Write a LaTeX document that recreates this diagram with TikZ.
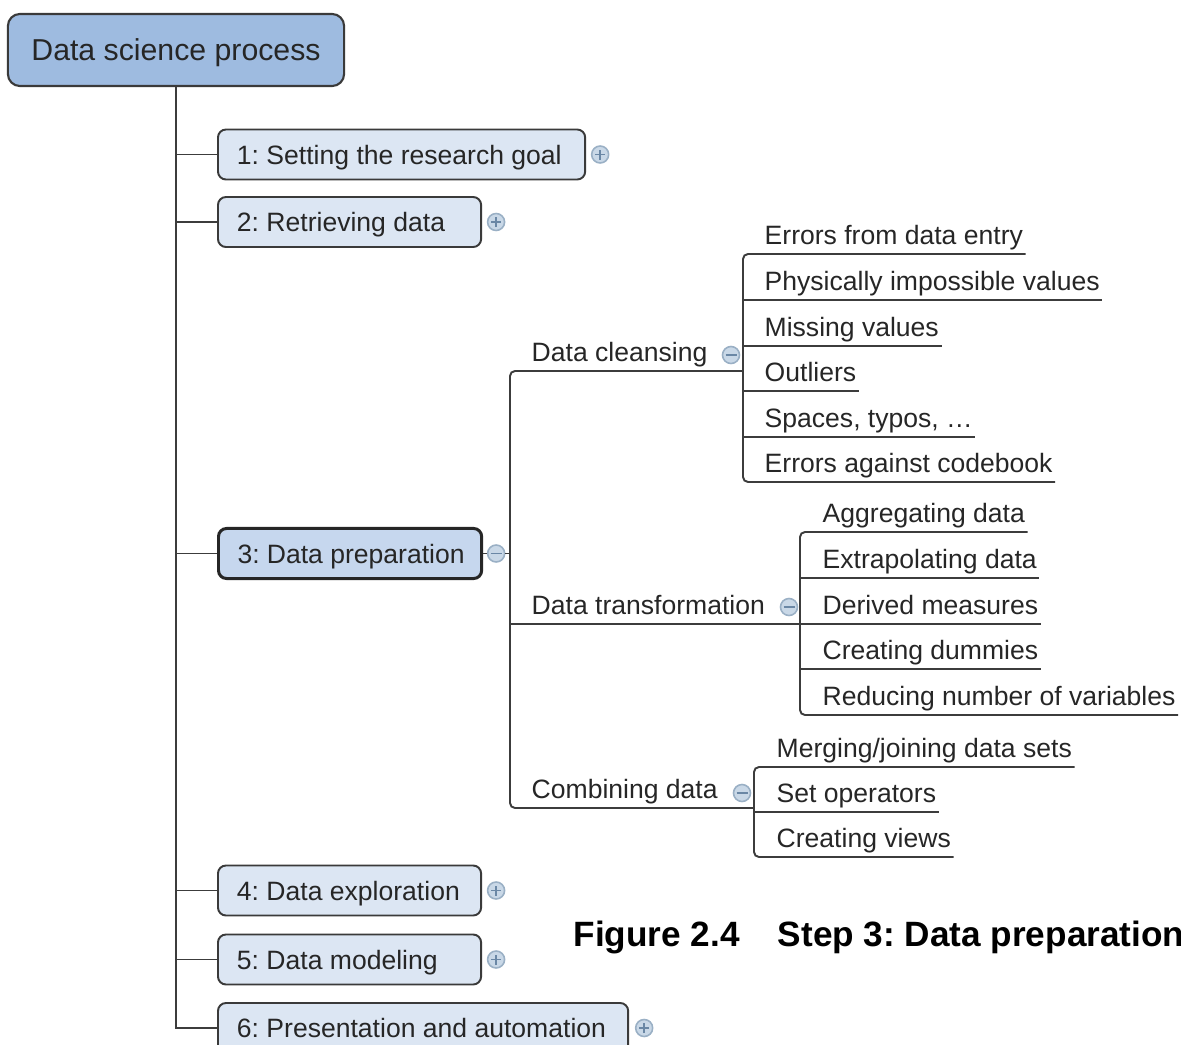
\documentclass[tikz,border=0pt]{standalone}
\usepackage{fontspec}
\setmainfont{Liberation Sans}
\definecolor{rootfill}{HTML}{9EBBE0}
\definecolor{boxfill}{HTML}{DCE6F3}
\definecolor{activefill}{HTML}{C6D7EE}
\definecolor{bordercol}{HTML}{3A3A3A}
\definecolor{txtcol}{HTML}{262626}
\definecolor{linecol}{HTML}{3C3C3C}
\definecolor{togfill}{HTML}{C9D8E7}
\definecolor{togdraw}{HTML}{9AB0C5}
\definecolor{togsign}{HTML}{6A87A5}
\begin{document}
\frenchspacing
\begin{tikzpicture}[x=0.01cm,y=-0.01cm,
  txt/.style={text=txtcol, font=\fontsize{7.55}{9}\selectfont},
  rootbox/.style={draw=bordercol, line width=0.6pt, fill=rootfill, rounded corners=0.12cm,
    minimum width=3.36cm, minimum height=0.72cm, font=\fontsize{8.6}{10}\selectfont,
    text=txtcol, text height=0.215cm, text depth=0cm},
  stepbox/.style={draw=bordercol, line width=0.55pt, fill=boxfill, rounded corners=0.08cm,
    minimum height=0.5cm, inner xsep=0.17cm, align=flush left, txt, text height=0.19cm,
    text depth=0cm, anchor=west},
  activebox/.style={stepbox, fill=activefill, draw=black!85, line width=0.85pt},
  tog/.style={circle, draw=togdraw, fill=togfill, minimum size=0.17cm, inner sep=0pt, line width=0.45pt},
  plustog/.style={tog, path picture={
    \draw[togsign, line width=0.5pt]
      ([xshift=-0.05cm]path picture bounding box.center) -- ([xshift=0.05cm]path picture bounding box.center)
      ([yshift=-0.05cm]path picture bounding box.center) -- ([yshift=0.05cm]path picture bounding box.center);}},
  minustog/.style={tog, path picture={
    \draw[togsign, line width=0.5pt]
      ([xshift=-0.055cm]path picture bounding box.center) -- ([xshift=0.055cm]path picture bounding box.center);}},
  leaf/.style={txt, anchor=south west, inner xsep=0.02cm, inner ysep=0.09cm,
    text height=0.19cm, text depth=0cm},
  link/.style={draw=linecol, line width=0.55pt},
  spine/.style={link, rounded corners=0.05cm},
]
\useasboundingbox (0,0) rectangle (1181,1045);
\clip (0,0) rectangle (1181,1045);

% root and steps
\node[rootbox] (root) at (176,50) {Data science process};
\node[stepbox, text width=3.33cm] (s1) at (217,154.5) {\hspace{0.02cm}1: Setting the research goal};
\node[stepbox, text width=2.29cm] (s2) at (217,222) {\hspace{0.02cm}2: Retrieving data};
\node[activebox, text width=2.29cm] (s3) at (217,553.5) {\hspace{0.02cm}3: Data preparation};
\node[stepbox, text width=2.29cm] (s4) at (217,890.5) {\hspace{0.02cm}4: Data exploration};
\node[stepbox, text width=2.29cm] (s5) at (217,959.5) {\hspace{0.02cm}5: Data modeling};
\node[stepbox, text width=3.76cm] (s6) at (217,1028) {\hspace{0.02cm}6: Presentation and automation};

\foreach \s in {s1,s2,s3,s4,s5,s6} {\draw[link] (root.south) |- (\s.west);}

% toggles of steps
\node[plustog] (t1) at ([xshift=0.14cm]s1.east) {};
\node[plustog] (t2) at ([xshift=0.14cm]s2.east) {};
\node[minustog] (t3) at ([xshift=0.13cm]s3.east) {};
\node[plustog] (t4) at ([xshift=0.14cm]s4.east) {};
\node[plustog] (t5) at ([xshift=0.14cm]s5.east) {};
\node[plustog] (t6) at ([xshift=0.15cm]s6.east) {};

% level 2
\coordinate (dcL) at (510,371);  \coordinate (dcR) at (743,371);
\coordinate (dtL) at (510,624);  \coordinate (dtR) at (800,624);
\coordinate (cdL) at (510,808);  \coordinate (cdR) at (754,808);

\node[leaf] (dc) at (529,371) {Data cleansing};
\node[leaf] (dt) at (529,624) {Data transformation};
\node[leaf] (cd) at (529,808) {Combining data};

\draw[link] (s3.east) -- (t3.west);
\draw[link] (t3.east) -- (t3.east -| dcL);
\draw[spine] (dcR) -- (dcL) -- (cdL) -- (cdR);
\draw[link] (dtL) -- (dtR);

\node[minustog] (m1) at (731,355) {};
\node[minustog] (m2) at (789,607) {};
\node[minustog] (m3) at (742,793) {};

% data cleansing children
\node[leaf] (e1) at (762,254) {Errors from data entry};
\node[leaf] (e2) at (762,300) {Physically impossible values};
\node[leaf] (e3) at (762,346) {Missing values};
\node[leaf] (e4) at (762,391) {Outliers};
\node[leaf] (e5) at (762,437) {Spaces, typos, …};
\node[leaf] (e6) at (762,482) {Errors against codebook};
\draw[spine] (e1.south east) -- (e1.south east -| dcR) -- (e6.south east -| dcR) -- (e6.south east);
\foreach \c in {e2,e3,e4,e5} {\draw[link] (\c.south east -| dcR) -- (\c.south east);}

% data transformation children
\node[leaf] (a1) at (820,532) {Aggregating data};
\node[leaf] (a2) at (820,578) {Extrapolating data};
\node[leaf] (a3) at (820,624) {Derived measures};
\node[leaf] (a4) at (820,669) {Creating dummies};
\node[leaf] (a5) at (820,715) {Reducing number of variables};
\draw[spine] (a1.south east) -- (a1.south east -| dtR) -- (a5.south east -| dtR) -- (a5.south east);
\foreach \c in {a2,a3,a4} {\draw[link] (\c.south east -| dtR) -- (\c.south east);}

% combining data children
\node[leaf] (v1) at (774,767) {Merging/joining data sets};
\node[leaf] (v2) at (774,812) {Set operators};
\node[leaf] (v3) at (774,857) {Creating views};
\draw[spine] (v1.south east) -- (v1.south east -| cdR) -- (v3.south east -| cdR) -- (v3.south east);
\draw[link] (v2.south east -| cdR) -- (v2.south east);

% caption
\node[anchor=base west, inner sep=0pt, font=\fontsize{10}{12}\selectfont\bfseries, text=black]
  (cap) at (573,946) {Figure 2.4\hspace{0.38cm}Step 3: Data preparation};
\end{tikzpicture}
\end{document}
